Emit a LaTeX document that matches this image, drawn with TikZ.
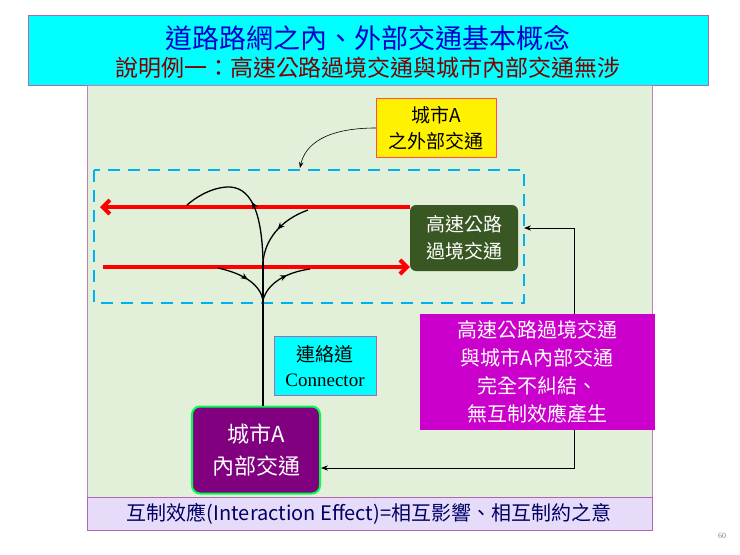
\documentclass[tikz,border=0pt]{standalone}
\usepackage{fontspec}
\setmainfont{Liberation Serif}
\newfontfamily\cjk{Noto Sans CJK TC}
\usetikzlibrary{arrows.meta,decorations.markings}
\definecolor{titlecyan}{RGB}{0,255,255}
\definecolor{panelgreen}{RGB}{226,239,217}
\definecolor{hwgreen}{RGB}{56,87,35}
\definecolor{citypurple}{RGB}{128,0,128}
\definecolor{notemag}{RGB}{204,0,204}
\definecolor{dashblue}{RGB}{0,176,240}
\definecolor{bottomlav}{RGB}{230,220,250}
\tikzset{
  txt/.style={align=center},
  ramp/.style={line width=1.3pt, postaction={decorate}, decoration={markings,
    mark=at position #1 with {\arrow{Stealth[length=7pt,width=6pt]}}}},
  ramp/.default=0.5,
  fast/.style={red, line width=4pt, -{Straight Barb[length=7pt,width=14pt]}},
}
\begin{document}
\begin{tikzpicture}[x=1pt,y=-1pt]
\useasboundingbox (0,0) rectangle (740,555);
\fill[white] (0,0) rectangle (740,555);
% title
\node[draw=violet!60, fill=titlecyan, minimum width=680, minimum height=70, anchor=north west] (title) at (28,15) {};
\node[txt, text=blue!80!black, font=\cjk\fontsize{27}{30}\selectfont] (t1) at (368,38) {道路路網之內、外部交通基本概念};
\node[txt, text=red!50!black, font=\cjk\fontsize{23}{26}\selectfont] (t2) at (368,68) {說明例一：高速公路過境交通與城市內部交通無涉};
% panel
\node[draw=violet!50, fill=panelgreen, minimum width=565, minimum height=412, anchor=north west] (panel) at (87,85) {};
\node[draw=violet!60, fill=bottomlav, minimum width=565, minimum height=33, anchor=north west] (bot) at (87,497) {};
\node[txt, text=blue!40!black, font=\cjk\fontsize{20}{22}\selectfont] (botlbl) at (369,514) {互制效應(Interaction Effect)=相互影響、相互制約之意};
% dashed zone
\draw[dashblue, line width=2pt, dash pattern=on 12pt off 8pt] (94,170) rectangle (524,303);
% boxes
\node[txt, draw=red!70, fill=yellow, minimum width=120, minimum height=59, font=\cjk\fontsize{19}{26}\selectfont] (ext) at (436,128) {城市A\\之外部交通};
\node[txt, fill=hwgreen, text=white, rounded corners=6pt, minimum width=108, minimum height=66, font=\cjk\fontsize{19}{27}\selectfont] (hw) at (464,238) {高速公路\\過境交通};
\node[txt, draw=violet!60, fill=titlecyan, minimum width=102, minimum height=59, font=\cjk\fontsize{19}{25}\selectfont] (conn) at (325,366) {連絡道\\{\rmfamily Connector}};
\node[txt, draw=green!70!cyan, line width=2pt, fill=citypurple, text=white, rounded corners=8pt, minimum width=128, minimum height=87, font=\cjk\fontsize{22}{32}\selectfont] (city) at (256,450) {城市A\\內部交通};
\node[gray, font=\footnotesize] (pg) at (722,536) {60};
% through traffic
\coordinate (wA) at (100,207);
\coordinate (wB) at (103,267);
\draw[fast] (hw.west |- wA) -- (wA);
\draw[fast] (wB) -- (hw.west |- wB);
% connector ramps
\coordinate (s1) at (263,300);
\coordinate (s2) at (263,262);
\draw[line width=1.3pt] (city.north -| s1) -- (s2);
\draw[ramp=0.45] (s2) .. controls (262,210) and (250,186) .. (227,187) .. controls (210,188) and (195,198) .. (187,205);
\draw[ramp=0.5] (308,210) .. controls (280,220) and (265,240) .. (s2);
\draw[ramp=0.55] (218,268) .. controls (245,274) and (260,285) .. (s1);
\draw[ramp=0.6] (s1) .. controls (268,282) and (288,272) .. (310,269);
% external traffic pointer
\draw[line width=0.6pt, -{Stealth[length=6pt]}] (ext.west) .. controls (325,128) and (305,145) .. (300,168);
% feedback line
\coordinate (r1) at (574,228);
\coordinate (r2) at (574,468);
\draw[line width=0.8pt, -{Stealth[length=7pt]}] (r1) -- (524,228);
\draw[line width=0.8pt, -{Stealth[length=7pt]}] (r1) -- (r2) -- (city.east |- r2);
\node[txt, fill=notemag, text=white, minimum width=235, minimum height=116, font=\cjk\fontsize{20}{28}\selectfont] (note) at (537,372) {高速公路過境交通\\與城市A內部交通\\完全不糾結、\\無互制效應產生};
\end{tikzpicture}
\end{document}
